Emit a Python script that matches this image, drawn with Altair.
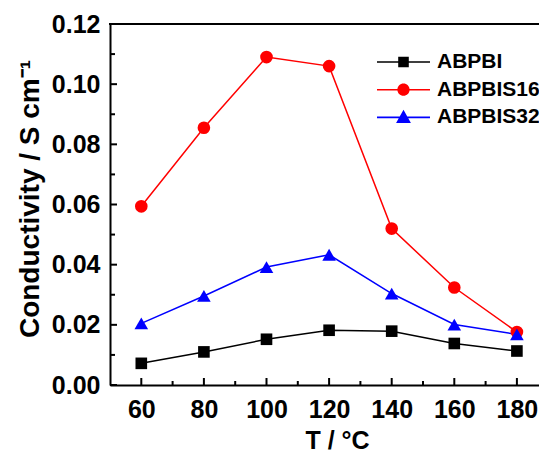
import altair as alt
import pandas as pd

temps = [60, 80, 100, 120, 140, 160, 180]
series = ["ABPBI", "ABPBIS16", "ABPBIS32"]
abpbi = [0.0072, 0.0110, 0.0152, 0.0182, 0.0179, 0.0138, 0.0113]
abpbis16 = [0.0594, 0.0855, 0.1090, 0.1060, 0.0520, 0.0324, 0.0176]
abpbis32 = [0.0205, 0.0296, 0.0392, 0.0433, 0.0304, 0.0201, 0.0168]

colors = ["#000000", "#ff0000", "#0000ff"]
shapes = ["square", "circle", "triangle-up"]
sizes = [110, 135, 185]

x_ticks = [60, 80, 100, 120, 140, 160, 180]
x_minor = [70, 90, 110, 130, 150, 170]
y_ticks = [0.0, 0.02, 0.04, 0.06, 0.08, 0.10, 0.12]
y_minor = [0.01, 0.03, 0.05, 0.07, 0.09, 0.11]

x_title = "T / °C"
y_title = "Conductivity / S cm⁻¹"

# legend symbol paths (line + marker), unit box [-1, 1]
bar = "M-1,-0.03H1V0.03H-1Z"
legend_paths = [
    bar + "M-0.2,-0.2H0.2V0.2H-0.2Z",
    bar + "M-0.23,0A0.23,0.23,0,1,1,0.23,0A0.23,0.23,0,1,1,-0.23,0Z",
    bar + "M0,-0.29L0.28,0.21L-0.28,0.21Z",
]
shape_expr = " : ".join(
    f"datum.value === '{s}' ? '{p}'" for s, p in zip(series[:-1], legend_paths[:-1])
) + f" : '{legend_paths[-1]}'"
fill_expr = " : ".join(
    f"datum.value === '{s}' ? '{c}'" for s, c in zip(series[:-1], colors[:-1])
) + f" : '{colors[-1]}'"

rows = []
for name, vals in zip(series, [abpbi, abpbis16, abpbis32]):
    for t, v in zip(temps, vals):
        rows.append({"T": t, "value": v, "series": name})
df = pd.DataFrame(rows)

FONT = "Liberation Sans"
W, H = 429, 361

xs = alt.Scale(domain=[50, 187.06], nice=False, zero=False)
ys = alt.Scale(domain=[0, 0.12], nice=False, zero=True)

x_axis = alt.Axis(
    values=x_ticks, ticks=False, tickSize=0, domain=True, domainColor="black",
    domainWidth=2, grid=False,
    labelFont=FONT, labelFontSize=25, labelFontWeight="bold", labelColor="black",
    labelPadding=12, title=x_title, titleFont=FONT, titleFontSize=25,
    titleFontWeight="bold", titleColor="black", titleX=227, titleY=63,
    titleBaseline="alphabetic", titleAlign="center",
)
y_axis = alt.Axis(
    values=y_ticks, format=".2f", ticks=False, tickSize=0, domain=True,
    domainColor="black", domainWidth=2, grid=False,
    labelFont=FONT, labelFontSize=25, labelFontWeight="bold", labelColor="black",
    labelPadding=10, title=y_title, titleFont=FONT, titleFontSize=28,
    titleFontWeight="bold", titleColor="black", titleX=-72, titleY=174.5,
    titleAngle=270, titleBaseline="alphabetic", titleAlign="center",
)

color_scale = alt.Scale(domain=series, range=colors)
color_legend = alt.Legend(
    orient="none", legendX=267, legendY=28, title=None, padding=0,
    symbolSize=2809, clipHeight=20, rowPadding=6.7, labelOffset=7,
    symbolOffset=0, symbolStrokeWidth=0, symbolOpacity=1,
    symbolType=alt.ExprRef(expr=shape_expr),
    symbolFillColor=alt.ExprRef(expr=fill_expr),
    labelFont=FONT, labelFontSize=21, labelFontWeight="bold",
    labelColor="black", labelLimit=300,
)

# reversed domain order keeps these scales from being merged into the colour legend
shape_scale = alt.Scale(domain=series[::-1], range=shapes[::-1])
size_scale = alt.Scale(domain=series[::-1], range=sizes[::-1])

lines = alt.Chart(df).mark_line(strokeWidth=1.5).encode(
    x=alt.X("T:Q", scale=xs, axis=x_axis),
    y=alt.Y("value:Q", scale=ys, axis=y_axis),
    color=alt.Color("series:N", scale=color_scale, legend=color_legend),
    detail="series:N",
)

points = alt.Chart(df).mark_point(filled=True, opacity=1, strokeWidth=0).encode(
    x=alt.X("T:Q", scale=xs, axis=x_axis),
    y=alt.Y("value:Q", scale=ys, axis=y_axis),
    color=alt.Color("series:N", scale=color_scale, legend=color_legend),
    shape=alt.Shape("series:N", scale=shape_scale, legend=None),
    size=alt.Size("series:N", scale=size_scale, legend=None),
    order=alt.Order("series:N"),
)

xt_major = alt.Chart(pd.DataFrame({"t": x_ticks})).mark_rule(color="black", strokeWidth=2).encode(
    x=alt.X("t:Q", scale=xs, axis=x_axis), y=alt.value(H), y2=alt.value(H - 7)
)
xt_minor = alt.Chart(pd.DataFrame({"t": x_minor})).mark_rule(color="black", strokeWidth=2).encode(
    x=alt.X("t:Q", scale=xs, axis=x_axis), y=alt.value(H), y2=alt.value(H - 4)
)
yt_major = alt.Chart(pd.DataFrame({"v": y_ticks})).mark_rule(color="black", strokeWidth=2).encode(
    y=alt.Y("v:Q", scale=ys, axis=y_axis), x=alt.value(0), x2=alt.value(7)
)
yt_minor = alt.Chart(pd.DataFrame({"v": y_minor})).mark_rule(color="black", strokeWidth=2).encode(
    y=alt.Y("v:Q", scale=ys, axis=y_axis), x=alt.value(0), x2=alt.value(5)
)
top_frame = alt.Chart(pd.DataFrame({"v": [0.12]})).mark_rule(color="black", strokeWidth=2).encode(
    y=alt.Y("v:Q", scale=ys, axis=y_axis), x=alt.value(-1), x2=alt.value(W)
)

chart = alt.layer(lines, points, xt_major, xt_minor, yt_major, yt_minor, top_frame).properties(
    width=W, height=H,
    autosize=alt.AutoSizeParams(type="none"),
    padding={"left": 102, "top": 16, "right": 0, "bottom": 69},
    background="white",
).configure_view(stroke=None)

chart.save("out.html", embed_options={"renderer": "svg", "actions": False})
